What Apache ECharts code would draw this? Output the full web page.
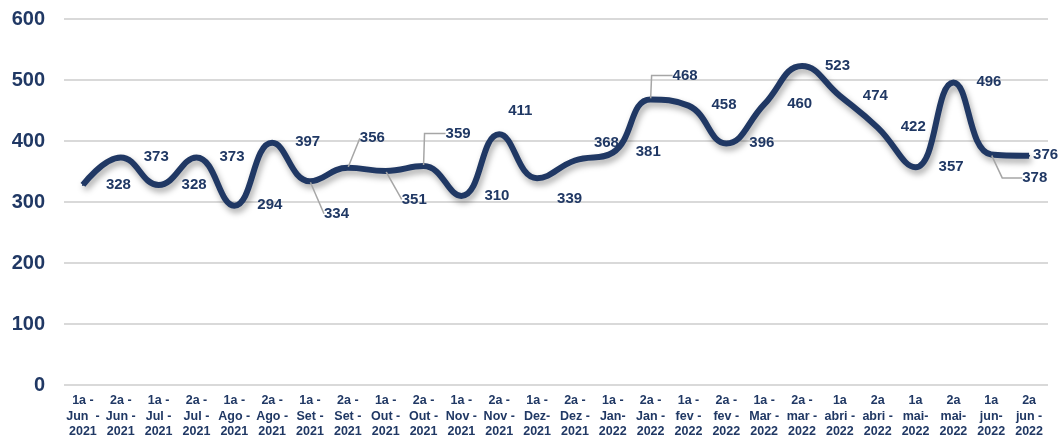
<!DOCTYPE html>
<html>
<head>
<meta charset="utf-8">
<script src="https://cdn.jsdelivr.net/npm/echarts@6/dist/echarts.min.js"></script>
<style>
html,body{margin:0;padding:0;background:#ffffff;}
#chart{width:1064px;height:441px;}
</style>
</head>
<body>
<div id="chart"></div>
<script>
// ---- data ----
const categories = [
  "1a -\nJun  -\n2021", "2a -\nJun -\n2021", "1a -\nJul -\n2021", "2a -\nJul -\n2021",
  "1a -\nAgo -\n2021", "2a -\nAgo -\n2021", "1a -\nSet -\n2021", "2a -\nSet -\n2021",
  "1a -\nOut -\n2021", "2a -\nOut -\n2021", "1a -\nNov -\n2021", "2a -\nNov -\n2021",
  "1a -\nDez-\n2021", "2a -\nDez -\n2021", "1a -\nJan-\n2022", "2a -\nJan -\n2022",
  "1a -\nfev -\n2022", "2a -\nfev -\n2022", "1a -\nMar -\n2022", "2a -\nmar -\n2022",
  "1a\nabri -\n2022", "2a\nabri -\n2022", "1a\nmai-\n2022", "2a\nmai-\n2022",
  "1a\njun-\n2022", "2a\njun -\n2022"
];
const values = [328, 373, 328, 373, 294, 397, 334, 356, 351, 359, 310, 411, 339,
                368, 381, 468, 458, 396, 460, 523, 474, 422, 357, 496, 378, 376];
const yMin = 0, yMax = 600, yStep = 100;

// ---- label placement (style, not data) ----
const HALF_H = 8; // labels are top-aligned; shift up by half their height
const labelOffsets = {
  6: [-9, 25], 7: [-11, -29], 8: [-7, 29], 9: [-1, -32],
  11: [-14, -23], 12: [-3, 21], 13: [-4, -17], 15: [-1, -23.5],
  24: [8, 24], 25: [-19, 0]
};
const labelPadding = { 6: [8, 0, 0, 0] };
const leaderLen2 = { 6: 0, 7: 0, 8: 0, 9: 21, 15: 21, 24: 20 };

const NAVY = '#203864';
const FONT = 'Arial, "Liberation Sans", sans-serif';

const seriesData = values.map((v, i) => {
  const item = { value: v };
  const off = labelOffsets[i] || [0, 0];
  item.label = { offset: [off[0], off[1] - HALF_H] };
  if (labelPadding[i]) item.label.padding = labelPadding[i];
  if (leaderLen2[i] !== undefined) {
    item.labelLine = {
      show: true,
      length2: leaderLen2[i],
      lineStyle: { color: '#a6a6a6', width: 1.5 }
    };
  }
  return item;
});

const chart = echarts.init(document.getElementById('chart'), null, { renderer: 'canvas' });
chart.setOption({
  animation: false,
  backgroundColor: '#ffffff',
  grid: { left: 64, right: 16, top: 19, bottom: 56 },
  xAxis: {
    type: 'category',
    data: categories,
    boundaryGap: true,
    axisLine: { show: false },
    axisTick: { show: false },
    axisLabel: {
      interval: 0,
      margin: 8,
      color: NAVY,
      fontFamily: FONT,
      fontWeight: 'bold',
      fontSize: 12.5,
      lineHeight: 15.5
    }
  },
  yAxis: {
    type: 'value',
    min: yMin,
    max: yMax,
    interval: yStep,
    axisLine: { show: false },
    axisTick: { show: false },
    splitLine: { lineStyle: { color: '#d9d9d9', width: 2 } },
    axisLabel: {
      margin: 19,
      color: NAVY,
      fontFamily: FONT,
      fontWeight: 'bold',
      fontSize: 20
    }
  },
  series: [{
    type: 'line',
    data: seriesData,
    smooth: 0.45,
    symbol: 'circle',
    symbolSize: 2,
    showSymbol: true,
    showAllSymbol: true,
    itemStyle: { color: NAVY },
    lineStyle: {
      color: NAVY,
      width: 6,
      shadowColor: 'rgba(0,0,0,0.35)',
      shadowBlur: 6,
      shadowOffsetX: 2,
      shadowOffsetY: 4
    },
    label: {
      show: true,
      position: 'right',
      distance: 22,
      align: 'left',
      verticalAlign: 'top',
      color: NAVY,
      fontFamily: FONT,
      fontWeight: 'bold',
      fontSize: 15
    },
    labelLine: { show: false },
    emphasis: { disabled: true }
  }]
});
</script>
</body>
</html>
